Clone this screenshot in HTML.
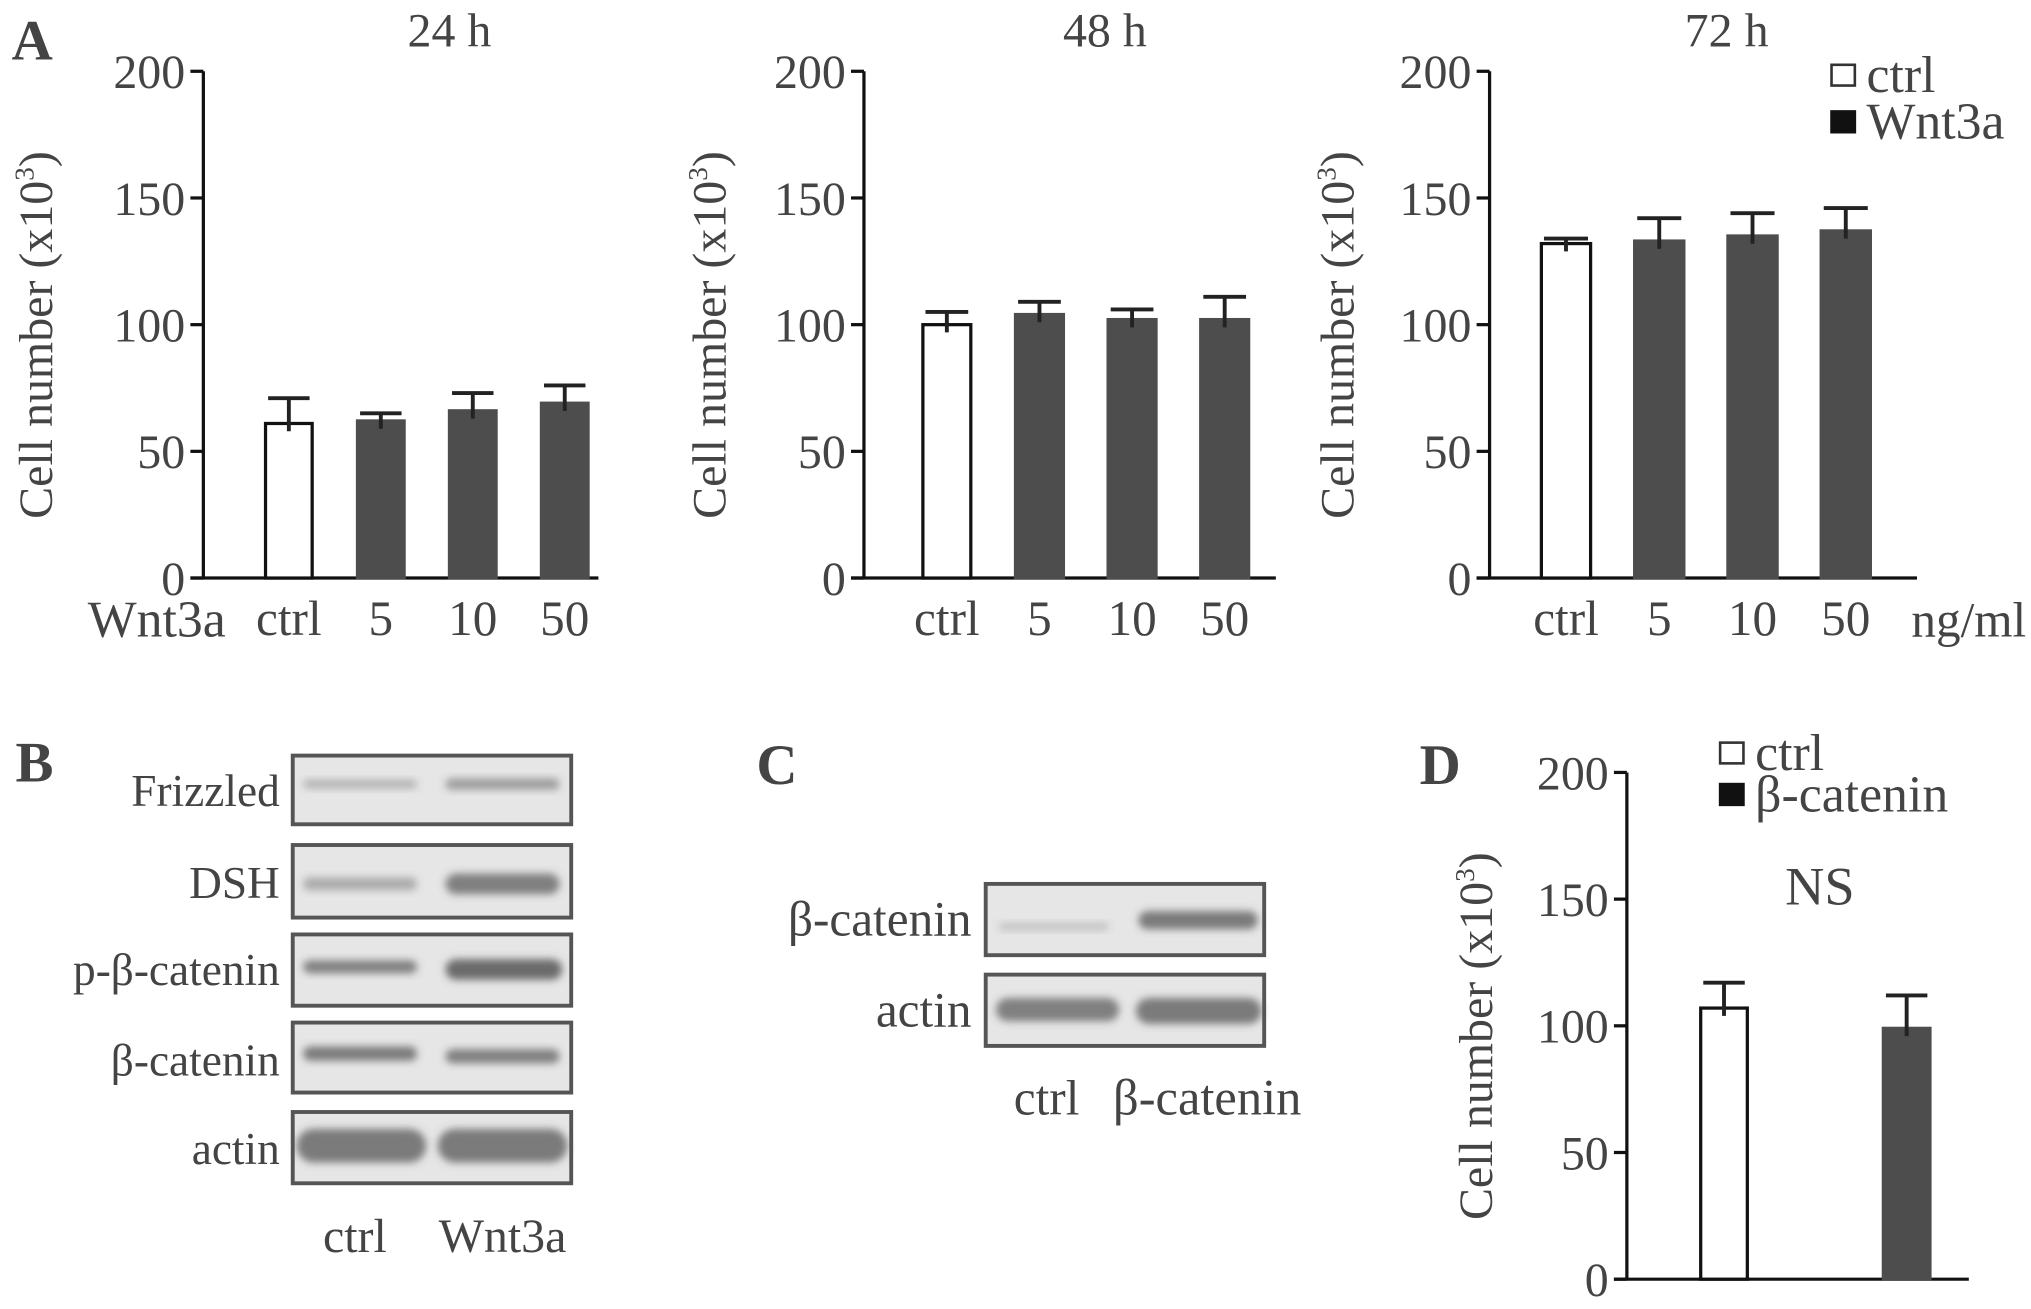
<!DOCTYPE html>
<html><head><meta charset="utf-8"><style>
html,body{margin:0;padding:0;background:#fff;}
svg{display:block;}
text{font-family:"Liberation Serif",serif;fill:#444;}
</style></head><body>
<svg id="fig" width="2031" height="1309" viewBox="0 0 1568 1010" preserveAspectRatio="none" xmlns="http://www.w3.org/2000/svg">
<defs>
<filter id="blur" x="-20%" y="-50%" width="140%" height="200%"><feGaussianBlur stdDeviation="3"/></filter>
</defs>
<g id="root"></g>
</svg>
<script>
// ---- data ----
const categoriesA = ["ctrl","5","10","50"];
const values24 = [61,62,66,69];
const errors24 = [10,3,7,7];
const values48 = [100,104,102,102];
const errors48 = [5,5,4,9];
const values72 = [132,133,135,137];
const errors72 = [2,9,9,9];
const categoriesD = ["ctrl","β-catenin"];
const valuesD = [107,99];
const errorsD = [10,13];
const yTicks = [0,50,100,150,200];

const NS="http://www.w3.org/2000/svg";
const root=document.getElementById('root');
function mk(tag,attrs,parent){const e=document.createElementNS(NS,tag);for(const k in attrs)e.setAttribute(k,attrs[k]);(parent||root).appendChild(e);return e;}
function txt(s,x,y,size,anchor,parent,extra){const t=mk('text',Object.assign({x:x,y:y,'font-size':size,'text-anchor':anchor||'start'},extra||{}),parent);t.textContent=s;return t;}

function barChart(cfg){
  const g=mk('g',{});
  
  
  const y=v=>cfg.y0-v*(cfg.y0-cfg.y200)/200;
  const ax=mk('line',{x1:cfg.ax,y1:cfg.y200,x2:cfg.ax,y2:cfg.y0,stroke:'#111','stroke-width':2.5},g);
  
  
  const xa=mk('line',{x1:cfg.ax-10,y1:cfg.y0,x2:cfg.xEnd,y2:cfg.y0,stroke:'#111','stroke-width':2.5},g);
  
  
  yTicks.forEach(v=>{
    mk('line',{x1:cfg.ax-10,y1:y(v),x2:cfg.ax,y2:y(v),stroke:'#111','stroke-width':2.5},g);
    const t=txt(String(v),cfg.ax-14,y(v)+13,37,'end',g);
    
    
  });
  const yt=txt('Cell number (x10',0,0,37,'middle',g,{transform:`translate(${cfg.titleX},${(cfg.y0+cfg.y200)/2+8}) rotate(-90)`});
  const sup=mk('tspan',{'font-size':21,dy:-14},yt);sup.textContent='3';
  const cl=mk('tspan',{'font-size':37,dy:14},yt);cl.textContent=')';
  
  
  cfg.values.forEach((v,i)=>{
    const cx=cfg.c0+i*cfg.step, w=cfg.bw;
    const isCtrl=i===0;
    const r=mk('rect',{x:cx-w/2,y:y(v),width:w,height:cfg.y0-y(v),fill:isCtrl?'#fff':'#4d4d4d',stroke:isCtrl?'#111':'#4d4d4d','stroke-width':2.5},g);
    
    
    const e=cfg.errors[i];
    const eb=mk('path',{d:`M${cx},${y(v)+6}V${y(v+e)}M${cx-w/2+2},${y(v+e)}H${cx+w/2-2}`,stroke:'#222','stroke-width':3,fill:'none'},g);
    
    
    if(cfg.showCats){const t=txt(cfg.cats[i],cx,cfg.y0+44,38,'middle',g);
      
      }
  });
  return g;
}
const A=barChart({name:'chart-24h',ax:157,y0:446,y200:55,xEnd:462,c0:223,step:71,bw:36,values:values24,errors:errors24,cats:categoriesA,showCats:true,titleX:40});
const B=barChart({name:'chart-48h',ax:667,y0:446,y200:55,xEnd:985,c0:731,step:71.5,bw:37,values:values48,errors:errors48,cats:categoriesA,showCats:true,titleX:560});
const C=barChart({name:'chart-72h',ax:1150,y0:446,y200:55,xEnd:1480,c0:1209,step:72,bw:38,values:values72,errors:errors72,cats:categoriesA,showCats:true,titleX:1045});
const D=barChart({name:'chart-d',ax:1256,y0:987,y200:596,xEnd:1520,c0:1331,step:141,bw:36,values:valuesD,errors:errorsD,cats:categoriesD,showCats:false,titleX:1152});

function label(s,x,y,size,anchor,name,extra){const t=txt(s,x,y,size,anchor,root,extra);return t;}
label('A',9,46,44,'start','panel-a-label',{'font-weight':'bold'});
label('B',12,603,44,'start','panel-b-label',{'font-weight':'bold'});
label('C',584,605,44,'start','panel-c-label',{'font-weight':'bold'});
label('D',1096,605,44,'start','panel-d-label',{'font-weight':'bold'});
label('24 h',347,36,37,'middle','title-24h');
label('48 h',853,36,37,'middle','title-48h');
label('72 h',1333,36,37,'middle','title-72h');
label('Wnt3a',121,491,40,'middle','x-label-wnt3a');
label('ng/ml',1520,491,38,'middle','x-unit-label');
label('NS',1405,698,42,'middle','ns-label');
// legends
function legend(x,y,fillc,s,name){const g=mk('g',{});
  mk('rect',{x:x,y:y-9,width:18,height:16,fill:fillc,stroke:fillc==='#fff'?'#333':'#111','stroke-width':2},g);
  txt(s,x+27,y+12,40,'start',g);}
legend(1414,59,'#fff','ctrl','legend-entry-ctrl');
legend(1414,95,'#111','Wnt3a','legend-entry-wnt3a');
legend(1328,582,'#fff','ctrl','legend-entry-d-ctrl');
legend(1328,614,'#111','β-catenin','legend-entry-d-bcatenin');

// blots
function blot(x,y,w,h,bands,name){const g=mk('g',{});
  mk('rect',{x:x,y:y,width:w,height:h,fill:'#e6e6e6',stroke:'#555','stroke-width':3},g);
  bands.forEach(b=>{mk('rect',{x:x+b[0],y:y+b[1]-b[2]/2,width:b[3],height:b[2],rx:b[2]/2,fill:'#555','fill-opacity':b[4],filter:'url(#blur)'},g);});
}
const bx=226,bw=215;
blot(bx,583,bw,53,[[8,22,7,88,0.35],[118,22,9,88,0.5]],'blot-frizzled');
blot(bx,652,bw,56,[[8,30,10,88,0.4],[118,30,16,88,0.7]],'blot-dsh');
blot(bx,721,bw,55,[[8,25,10,88,0.7],[118,27,16,90,0.85]],'blot-p-beta-catenin');
blot(bx,789,bw,54,[[8,24,11,88,0.75],[118,26,11,88,0.7]],'blot-beta-catenin');
blot(bx,858,bw,55,[[3,26,26,100,0.75],[112,26,26,100,0.75]],'blot-actin');
label('Frizzled',216,622,35,'end','blot-label-frizzled');
label('DSH',216,693,35,'end','blot-label-dsh');
label('p-β-catenin',216,760,35,'end','blot-label-p-beta-catenin');
label('β-catenin',216,830,35,'end','blot-label-beta-catenin');
label('actin',216,898,35,'end','blot-label-actin');
label('ctrl',274,966,37,'middle','blot-lane-ctrl');
label('Wnt3a',388,966,37,'middle','blot-lane-wnt3a');
const cx0=761,cw=215;
blot(cx0,682,cw,55,[[10,33,6,85,0.25],[118,28,14,92,0.75]],'blot-c-beta-catenin');
blot(cx0,752,cw,55,[[8,27,18,95,0.7],[116,28,20,97,0.75]],'blot-c-actin');
label('β-catenin',750,722,38,'end','blot-c-label-beta-catenin');
label('actin',750,792,38,'end','blot-c-label-actin');
label('ctrl',808,860,38,'middle','blot-c-lane-ctrl');
label('β-catenin',932,860,39,'middle','blot-c-lane-beta-catenin');
</script>
</body></html>
